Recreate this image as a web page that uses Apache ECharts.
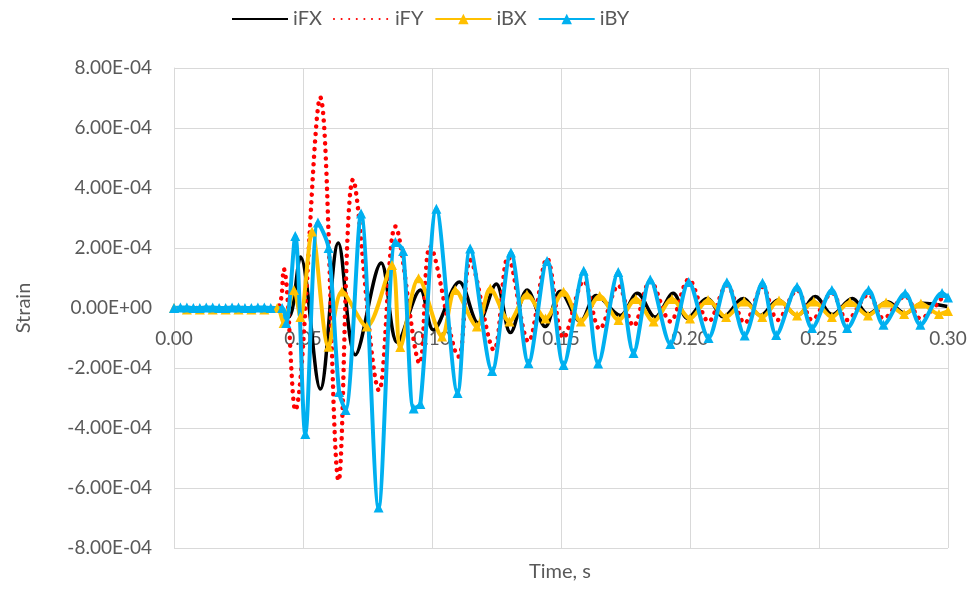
<!DOCTYPE html>
<html>
<head>
<meta charset="utf-8">
<script src="https://cdn.jsdelivr.net/npm/echarts@6/dist/echarts.min.js"></script>
<style>
  html, body { margin: 0; padding: 0; background: #fff; }
  #main { width: 973px; height: 590px; }
</style>
</head>
<body>
<div id="main"></div>
<script type="text/javascript">
    // values: [time s, strain in units of 1e-4]
    var SCALE = 1e-4;
    var seriesNames = ['iFX', 'iFY', 'iBX', 'iBY'];

    var iFX = [[0,0],[0.02,0],[0.041,0],[0.0445,-0.3],[0.049,1.7],[0.0567,-2.7],[0.0637,2.17],[0.0703,-1.56],
        [0.0803,1.5],[0.0866,-1.15],[0.0955,0.6],[0.1005,-0.73],[0.1106,0.87],[0.1179,-0.5],[0.1249,0.8],
        [0.1304,-0.82],[0.1369,0.6],[0.1439,-0.62],[0.1497,0.56],[0.1575,-0.45],[0.1637,0.42],[0.1730,-0.25],
        [0.1796,0.49],[0.1865,-0.3],[0.1935,0.49],[0.1990,-0.34],[0.2067,0.32],[0.2129,-0.29],[0.2207,0.32],
        [0.2273,-0.25],[0.2342,0.27],[0.2416,-0.25],[0.2486,0.38],[0.2551,-0.22],[0.2629,0.32],[0.2691,-0.2],
        [0.2765,0.21],[0.2834,-0.18],[0.2900,0.16],[0.2997,0.05]];

    var iFY = [[0,0],[0.02,0],[0.0398,0],[0.0425,1.3],[0.0470,-3.4],[0.0567,7.02],[0.0638,-5.75],[0.0694,4.28],
        [0.0795,-2.75],[0.0858,2.72],[0.0952,-1.84],[0.0993,2.05],[0.1103,-1.62],[0.1148,1.6],[0.1240,-1.4],
        [0.1295,1.7],[0.1374,-1.12],[0.1446,1.65],[0.1510,-1.0],[0.1588,0.9],[0.1650,-0.7],[0.1722,0.75],
        [0.1781,-0.6],[0.1846,0.9],[0.1924,-0.45],[0.1995,0.95],[0.2072,-0.45],[0.2143,0.75],[0.2212,-0.5],
        [0.2281,0.7],[0.2340,-0.4],[0.2415,0.6],[0.2473,-0.4],[0.2550,0.5],[0.2609,-0.4],[0.2692,0.45],
        [0.2750,-0.35],[0.2834,0.4],[0.2893,-0.35],[0.2977,0.35]];

    var iBX = [[0,0],[0.005,-0.05],[0.01,-0.05],[0.015,-0.05],[0.02,-0.05],[0.025,-0.05],[0.03,-0.05],[0.035,-0.05],
        [0.040,0],[0.0425,-0.5],[0.0465,0.6],[0.0490,-0.3],
        [0.0535,2.55],[0.0599,-1.29],[0.0651,0.55],[0.0747,-0.62],[0.0845,1.43],[0.0877,-1.3],[0.0948,0.99],
        [0.1039,-0.95],[0.1090,0.6],[0.1174,-0.62],[0.1226,0.65],[0.1300,-0.45],[0.1368,0.45],[0.1440,-0.35],
        [0.1510,0.54],[0.1577,-0.45],[0.1650,0.4],[0.1723,-0.4],[0.1790,0.3],[0.1859,-0.45],[0.1930,0.3],
        [0.2000,-0.35],[0.2070,0.27],[0.2140,-0.3],[0.2210,0.22],[0.2280,-0.3],[0.2345,0.25],[0.2415,-0.25],
        [0.2480,0.22],[0.2550,-0.3],[0.2620,0.2],[0.2690,-0.25],[0.2760,0.18],[0.2830,-0.2],[0.2895,0.15],
        [0.2965,-0.2],[0.3,-0.1]];

    var iBY = [[0,0],[0.0025,0.02],[0.005,0.02],[0.0075,0],[0.01,0],[0.0125,0.02],[0.015,0.02],[0.0175,0],
        [0.02,0],[0.0225,0.02],[0.025,0.02],[0.0275,0],[0.03,0],[0.0325,0.02],[0.035,0.02],[0.0375,0],[0.0419,0],
        [0.0435,-0.5],[0.047,2.4],[0.0509,-4.2],[0.0558,2.85],[0.0599,2.0],[0.0640,-2.8],[0.0665,-3.4],
        [0.0725,3.15],[0.0793,-6.65],[0.0858,2.2],[0.0888,1.9],[0.0929,-3.35],[0.0955,-3.2],[0.1017,3.31],
        [0.1099,-2.83],[0.1148,1.98],[0.1233,-2.1],[0.1306,1.85],[0.1374,-1.84],[0.1446,1.57],[0.1510,-1.9],
        [0.1588,1.24],[0.1644,-1.85],[0.1722,1.2],[0.1781,-1.5],[0.1846,0.95],[0.1924,-1.2],[0.1995,0.87],
        [0.2072,-1.0],[0.2143,0.86],[0.2212,-0.92],[0.2281,0.84],[0.2334,-0.9],[0.2415,0.71],[0.2473,-0.67],
        [0.2550,0.6],[0.2609,-0.67],[0.2692,0.6],[0.2750,-0.56],[0.2834,0.49],[0.2893,-0.56],[0.2977,0.5],
        [0.300,0.35]];

    function scaled(arr) {
        return arr.map(function (p) { return [p[0], p[1] * SCALE]; });
    }

    function sci(v) {
        if (Math.abs(v) < 1e-12) return '0.00E+00';
        var s = v.toExponential(2).toUpperCase();
        var parts = s.split('E');
        var exp = parseInt(parts[1], 10);
        var sign = exp < 0 ? '-' : '+';
        var e = Math.abs(exp);
        return parts[0] + 'E' + sign + (e < 10 ? '0' + e : e);
    }

    var FONT = 'Lato';
    var TXT = '#595959';

    var myChart = echarts.init(document.getElementById('main'));

    var option = {
        animation: false,
        backgroundColor: '#fff',
        textStyle: { fontFamily: FONT },
        legend: {
            top: 4,
            left: 226,
            itemWidth: 56,
            itemHeight: 13,
            itemGap: 11,
            textStyle: { fontFamily: FONT, fontSize: 20, color: TXT, padding: [0, 0, 0, 0] },
            data: [
                { name: 'iFX', itemStyle: { opacity: 0 } },
                { name: 'iFY', itemStyle: { opacity: 0 } },
                { name: 'iBX' },
                { name: 'iBY' }
            ]
        },
        grid: { left: 174, right: 25, top: 68, bottom: 42, containLabel: false },
        xAxis: {
            type: 'value',
            min: 0,
            max: 0.3,
            interval: 0.05,
            // the axis sits on strain = 0 (grid height 480px, zero at mid height)
            offset: -240,
            axisLine: { show: true, onZero: false, lineStyle: { color: '#d9d9d9', width: 1 } },
            axisTick: { show: false },
            splitLine: { show: true, lineStyle: { color: '#d9d9d9', width: 1 } },
            axisLabel: {
                color: TXT, fontSize: 19, fontFamily: FONT, margin: 21,
                formatter: function (v) { return v.toFixed(2); }
            }
        },
        yAxis: {
            type: 'value',
            min: -8e-4,
            max: 8e-4,
            interval: 2e-4,
            axisLine: { show: true, lineStyle: { color: '#d9d9d9', width: 1 } },
            axisTick: { show: false },
            splitLine: { show: true, lineStyle: { color: '#d9d9d9', width: 1 } },
            axisLabel: { color: TXT, fontSize: 19, fontFamily: FONT, margin: 22, formatter: sci }
        },
        graphic: [
            { type: 'text', x: 560, y: 572,
              style: { text: 'Time, s', font: '20px ' + FONT, fill: TXT, align: 'center', verticalAlign: 'middle' } },
            { type: 'text', x: 24, y: 308, rotation: Math.PI / 2,
              style: { text: 'Strain', font: '20px ' + FONT, fill: TXT, align: 'center', verticalAlign: 'middle' } }
        ],
        series: [
            {
                name: 'iFX', type: 'line', data: scaled(iFX),
                smooth: 0.35, symbol: 'none',
                lineStyle: { color: '#000000', width: 3.5 },
                itemStyle: { color: '#000000' }
            },
            {
                name: 'iFY', type: 'line', data: scaled(iFY),
                smooth: 0.35, symbol: 'none',
                lineStyle: { color: '#ff0000', width: 4.5, type: [0.1, 7.5], cap: 'round' },
                itemStyle: { color: '#ff0000' }
            },
            {
                name: 'iBX', type: 'line', data: scaled(iBX),
                smooth: 0.3, symbol: 'triangle', symbolSize: 10, showAllSymbol: true,
                lineStyle: { color: '#ffc000', width: 4 },
                itemStyle: { color: '#ffc000' }
            },
            {
                name: 'iBY', type: 'line', data: scaled(iBY),
                smooth: 0.3, symbol: 'triangle', symbolSize: 10, showAllSymbol: true,
                lineStyle: { color: '#00b0f0', width: 4 },
                itemStyle: { color: '#00b0f0' }
            }
        ]
    };

    myChart.setOption(option);
</script>
</body>
</html>
